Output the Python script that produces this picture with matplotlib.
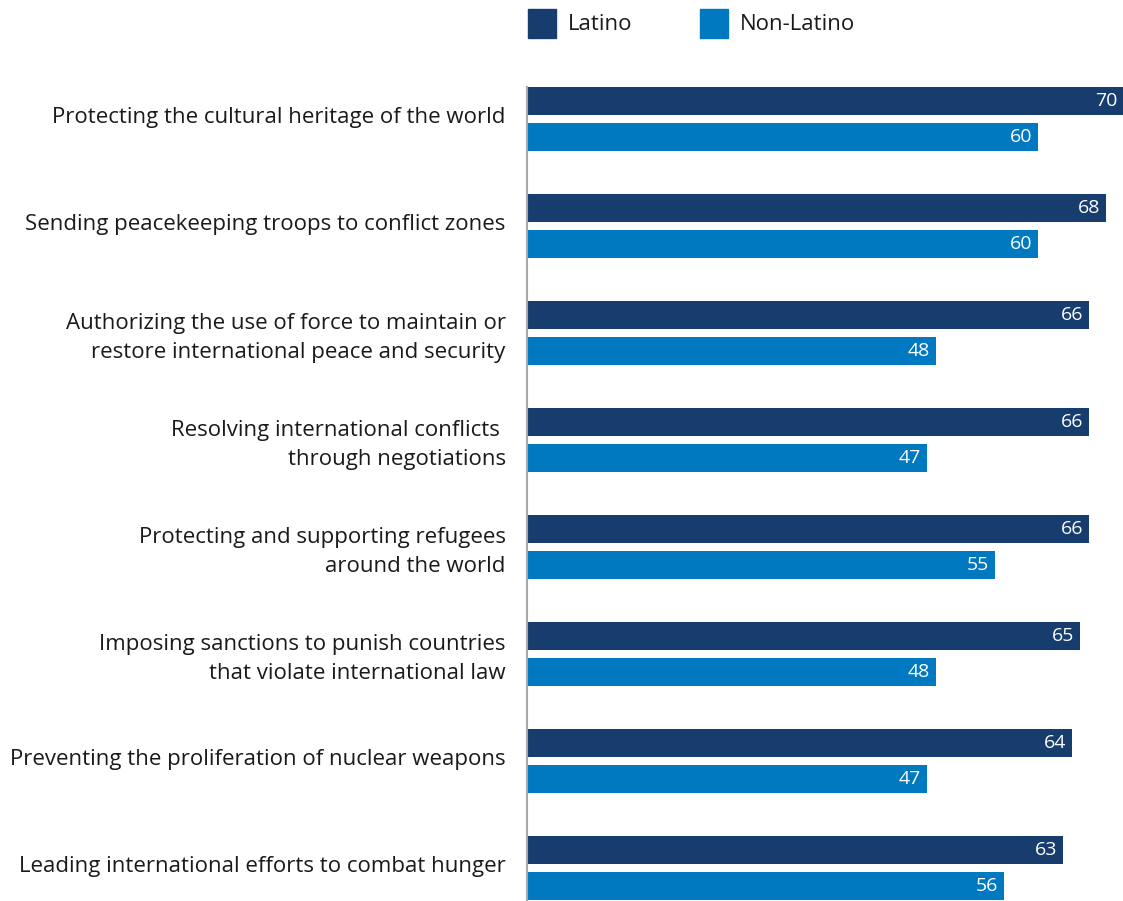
import matplotlib.pyplot as plt
from matplotlib.patches import Rectangle

plt.rcParams['font.family'] = ['Open Sans', 'DejaVu Sans']

categories = [
    'Protecting the cultural heritage of the world',
    'Sending peacekeeping troops to conflict zones',
    'Authorizing the use of force to maintain or\nrestore international peace and security',
    'Resolving international conflicts \nthrough negotiations',
    'Protecting and supporting refugees\naround the world',
    'Imposing sanctions to punish countries\nthat violate international law',
    'Preventing the proliferation of nuclear weapons',
    'Leading international efforts to combat hunger',
]
latino = [70, 68, 66, 66, 66, 65, 64, 63]
non_latino = [60, 60, 48, 47, 55, 48, 47, 56]
series_names = ['Latino', 'Non-Latino']

dark = '#163D6E'
light = '#0079C1'

fig = plt.figure(figsize=(11.23, 9.01), dpi=100)
ax = fig.add_axes([527 / 1123, 0, 596 / 1123, 814 / 901])

bar_h = 0.262
offset = 0.336
px = 1 / 107  # one pixel in y data units
ys = list(range(len(categories)))
ax.barh(ys, latino, height=bar_h, color=dark)
ax.barh([y + offset for y in ys], non_latino, height=bar_h, color=light)

for y, v in zip(ys, latino):
    ax.text(v - 0.7, y, str(v), color='white', fontsize=14,
            ha='right', va='center')
for y, v in zip(ys, non_latino):
    ax.text(v - 0.7, y + offset, str(v), color='white', fontsize=14,
            ha='right', va='center')

# category labels sit left of the axis line
for y, name in zip(ys, categories):
    shift = 5 * px if '\n' in name else -1.5 * px
    ax.text(-2.5, y + offset / 2 + shift, name, ha='right', va='center',
            fontsize=16, color='#1a1a1a', linespacing=1.55)

ax.set_xlim(0, 70)
ax.set_ylim(7.477, -0.131)
ax.set_xticks([])
ax.set_yticks([])
for s in ['top', 'right', 'bottom']:
    ax.spines[s].set_visible(False)
ax.spines['left'].set_color('#A8A8A8')
ax.spines['left'].set_linewidth(1.5)

# legend drawn by hand along the top
for x0, col, name in [(528, dark, series_names[0]), (700, light, series_names[1])]:
    fig.patches.append(Rectangle((x0 / 1123, 1 - 38 / 901), 28 / 1123, 29 / 901,
                                 transform=fig.transFigure, color=col))
    fig.text((x0 + 40) / 1123, 1 - 25 / 901, name, fontsize=16,
             color='#1a1a1a', va='center', ha='left')

fig.savefig('out.png', dpi=100)
